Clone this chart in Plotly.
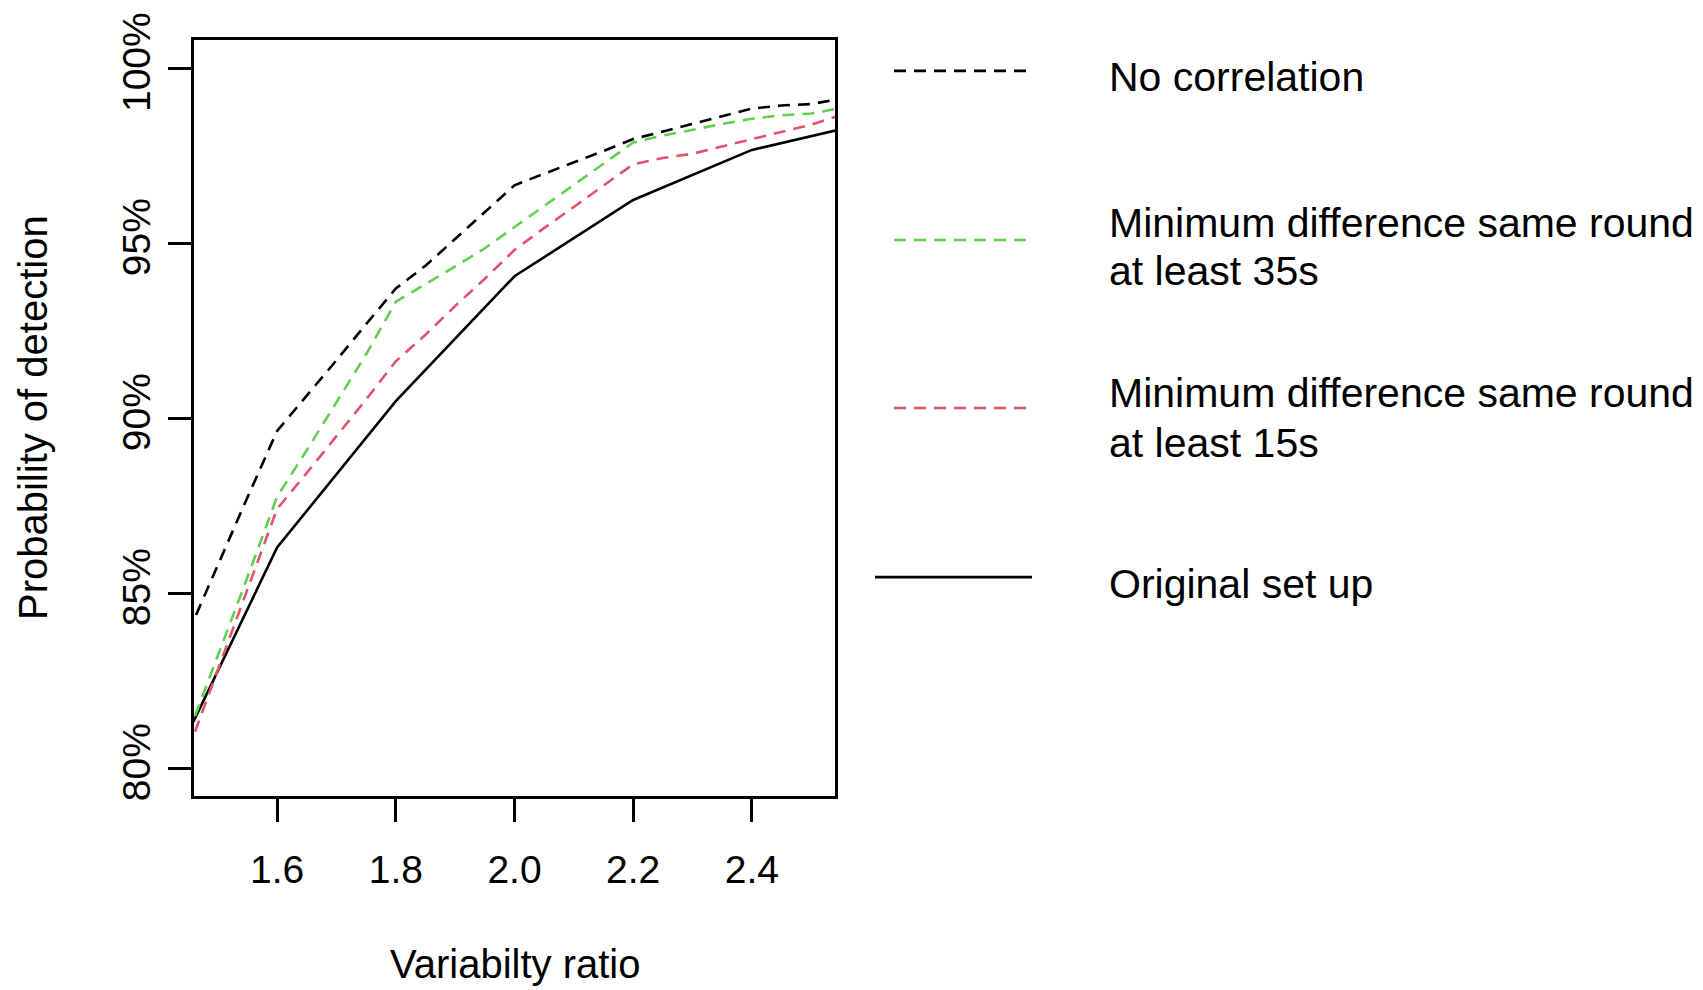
import plotly.graph_objects as go

# Variability ratio grid for the three simulated scenarios (dashed curves)
ratio_fine = [1.45, 1.50, 1.55, 1.60, 1.65, 1.70, 1.75, 1.80, 1.85, 1.90, 1.95, 2.00,
              2.05, 2.10, 2.15, 2.20, 2.25, 2.30, 2.35, 2.40, 2.45, 2.50, 2.55]

# Probability of detection (%) per scenario
no_correlation = [83.85, 85.80, 87.73, 89.63, 90.63, 91.65, 92.68, 93.70, 94.35, 95.12, 95.88, 96.65,
                  96.98, 97.30, 97.63, 97.97, 98.19, 98.41, 98.62, 98.84, 98.93, 98.97, 99.12]
min_diff_35s = [80.96, 83.20, 85.45, 87.75, 89.08, 90.45, 91.82, 93.32, 93.82, 94.33, 94.85, 95.45,
                96.07, 96.67, 97.27, 97.87, 98.07, 98.24, 98.40, 98.55, 98.65, 98.70, 98.86]
min_diff_15s = [80.50, 82.80, 85.10, 87.40, 88.43, 89.47, 90.53, 91.62, 92.38, 93.20, 93.98, 94.80,
                95.43, 96.03, 96.63, 97.25, 97.43, 97.55, 97.76, 97.97, 98.17, 98.38, 98.66]

# Original set-up, evaluated on a coarser grid
ratio_coarse = [1.4, 1.6, 1.8, 2.0, 2.2, 2.4, 2.6]
original_setup = [79.24, 86.30, 90.48, 94.05, 96.23, 97.66, 98.45]

x_ticks = [1.6, 1.8, 2.0, 2.2, 2.4]
x_tick_labels = ["1.6", "1.8", "2.0", "2.2", "2.4"]
y_ticks = [0.80, 0.85, 0.90, 0.95, 1.00]
y_tick_labels = ["80%", "85%", "90%", "95%", "100%"]

legend_labels = [
    ["No correlation"],
    ["Minimum difference same round", "at least 35s"],
    ["Minimum difference same round", "at least 15s"],
    ["Original set up"],
]

BLACK = "#000000"
GREEN = "#61D04F"
RED = "#DF536B"
FONT = "Liberation Sans, Arial, sans-serif"
DASH = "12px,8px"
LW = 2.6

W, H = 1703, 990
L, R, T, B = 194, 835, 36, 796  # plot-area edges in pixels


def px_x(px):
    return (px - L) / (R - L)


def px_y(py):
    return (B - py) / (B - T)


def frac(vals):
    return [v / 100 for v in vals]


fig = go.Figure()
fig.add_trace(go.Scatter(x=ratio_coarse, y=frac(original_setup), mode="lines",
                         line=dict(color=BLACK, width=LW), name="Original set up"))
fig.add_trace(go.Scatter(x=ratio_fine, y=frac(min_diff_15s), mode="lines",
                         line=dict(color=RED, width=LW, dash=DASH), name="15s"))
fig.add_trace(go.Scatter(x=ratio_fine, y=frac(min_diff_35s), mode="lines",
                         line=dict(color=GREEN, width=LW, dash=DASH), name="35s"))
fig.add_trace(go.Scatter(x=ratio_fine, y=frac(no_correlation), mode="lines",
                         line=dict(color=BLACK, width=LW, dash=DASH), name="No correlation"))

axis_common = dict(showgrid=False, zeroline=False, showline=True, mirror=True,
                   linecolor=BLACK, linewidth=2.5, ticks="outside", ticklen=23,
                   tickwidth=2.5, tickcolor=BLACK,
                   tickfont=dict(family=FONT, size=39, color=BLACK))

fig.update_layout(
    width=W, height=H,
    margin=dict(l=L, r=W - R, t=T, b=H - B, pad=0),
    paper_bgcolor="white", plot_bgcolor="white",
    showlegend=False,
    xaxis=dict(range=[1.46, 2.54], tickvals=x_ticks, ticktext=x_tick_labels,
               ticklabelstandoff=14, **axis_common),
    yaxis=dict(range=[0.792, 1.008], tickvals=y_ticks, ticktext=y_tick_labels,
               tickangle=-90, ticklabelstandoff=3, **axis_common),
)

annotations = [
    dict(text="Variabilty ratio", x=px_x(514.5), y=px_y(965), xanchor="center", yanchor="middle",
         font=dict(family=FONT, size=40, color=BLACK)),
    dict(text="Probability of detection", x=px_x(33), y=px_y(416), xanchor="center", yanchor="middle",
         textangle=-90, font=dict(family=FONT, size=40, color=BLACK)),
]

# Legend: sample segments and labels placed to the right of the panel
legend_styles = [
    (BLACK, DASH, 894, 1027, 67),
    (GREEN, DASH, 894, 1027, 237),
    (RED, DASH, 894, 1027, 406),
    (BLACK, "solid", 875, 1032, 576),
]
legend_text_rows = [[73], [219.5, 268.5], [391, 441], [583]]

shapes = []
for (color, dash, x0, x1, ly), lines, rows in zip(legend_styles, legend_labels, legend_text_rows):
    shapes.append(dict(type="line", xref="paper", yref="paper",
                       x0=px_x(x0), x1=px_x(x1), y0=px_y(ly), y1=px_y(ly),
                       line=dict(color=color, width=LW, dash=dash)))
    for text, row in zip(lines, rows):
        annotations.append(dict(text=text, x=px_x(1107), y=px_y(row), xanchor="left",
                                yanchor="middle", font=dict(family=FONT, size=41, color=BLACK)))

for a in annotations:
    a.update(xref="paper", yref="paper", showarrow=False)

fig.update_layout(annotations=annotations, shapes=shapes)
fig.write_html("out.html")
